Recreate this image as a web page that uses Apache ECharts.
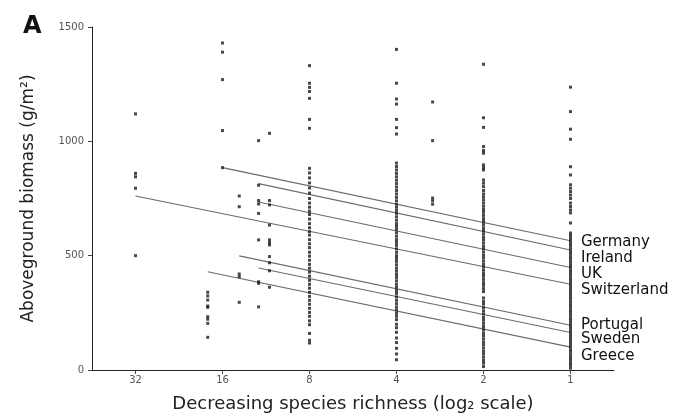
<!DOCTYPE html>
<html>
<head>
<meta charset="utf-8">
<script src="https://cdn.jsdelivr.net/npm/echarts@6/dist/echarts.min.js"></script>
<style>
  html, body { margin: 0; padding: 0; background: #fff; }
  #chart { width: 678px; height: 420px; }
</style>
</head>
<body>
<div id="chart"></div>
<script>
// species richness levels shown on the (log2) x axis
var richTicks = [1, 2, 4, 8, 16, 32];

// aboveground biomass (g/m2) of plots, per richness level
var rich32 = [1120, 860, 845, 795, 500];
var rich18 = [340, 324, 306, 280, 274, 233, 222, 204, 143];
var rich16 = [1430, 1390, 1270, 1047, 885];
var rich14 = [761, 714, 420, 408, 296];
var rich12 = [1003, 808, 741, 726, 685, 569, 386, 379, 276];
var rich11 = [1035, 741, 722, 634, 569, 557, 547, 496, 469, 434, 362];
var rich8 = [1331, 1254, 1236, 1218, 1188, 1096, 1057, 882, 862, 840, 818, 796, 774,
  750, 730, 712, 695, 680, 660, 640, 622, 605, 590, 570, 552, 535, 515, 498, 480, 462,
  445, 428, 410, 392, 375, 358, 340, 322, 305, 288, 270, 252, 235, 215, 198, 160, 130, 118];
var rich4 = [1402, 1254, 1185, 1163, 1096, 1060, 1032, 905, 890, 875, 860, 845, 830, 815,
  800, 785, 770, 755, 740, 725, 712, 698, 685, 670, 655, 640, 628, 615, 600, 585, 570,
  558, 545, 530, 515, 500, 488, 475, 460, 445, 432, 418, 405, 390, 375, 362, 348, 335,
  320, 305, 290, 275, 262, 248, 235, 220, 200, 185, 165, 140, 120, 95, 70, 45];
var rich3 = [1172, 1003, 752, 740, 725];
var rich2 = [1337, 1103, 1061, 977, 960, 948, 897, 885, 875, 831, 817, 802, 785, 770, 757,
  744, 730, 716, 702, 690, 676, 662, 650, 636, 622, 610, 596, 582, 570, 556, 542, 530,
  516, 502, 490, 476, 462, 450, 436, 422, 410, 396, 382, 370, 356, 343, 315, 300, 288,
  272, 258, 245, 230, 218, 204, 190, 176, 162, 150, 136, 122, 110, 96, 82, 70, 56, 42, 30, 15];
var rich1 = [1237, 1130, 1053, 1009, 889, 853, 810, 795, 780, 765, 750, 730, 715, 700, 687,
  643, 599, 588, 576, 565, 553, 542, 530, 518, 507, 495, 484, 472, 460, 449, 437, 426,
  414, 402, 391, 379, 368, 356, 344, 333, 321, 310, 298, 286, 275, 263, 252, 240, 228,
  217, 205, 194, 182, 170, 159, 147, 136, 124, 112, 101, 89, 78, 66, 54, 43, 31, 20, 8];

// fitted lines per country: richness where the line starts, value there, value at richness 1
var countries = ['Germany', 'Ireland', 'UK', 'Switzerland', 'Portugal', 'Sweden', 'Greece'];
var lineFrom = [16, 12, 12, 32, 14, 12, 18];
var lineStart = [885, 815, 735, 761, 499, 446, 430];
var lineEnd = [565, 525, 448, 375, 196, 164, 100];
var labelShift = [1, 8, 7, 6, 0, 7, 9];

var columns = [
  [32, rich32], [18, rich18], [16, rich16], [14, rich14], [12, rich12], [11, rich11],
  [8, rich8], [4, rich4], [3, rich3], [2, rich2], [1, rich1]
];
var points = [];
columns.forEach(function (c) {
  c[1].forEach(function (v) { points.push([c[0], v]); });
});

var series = [{
  type: 'scatter',
  data: points,
  symbol: 'rect',
  symbolSize: 3,
  itemStyle: { color: '#1a1a1a' },
  z: 3
}];
countries.forEach(function (name, i) {
  series.push({
    name: name,
    type: 'line',
    data: [[lineFrom[i], lineStart[i]], [1, lineEnd[i]]],
    symbol: 'none',
    lineStyle: { color: '#6a6a6a', width: 1.1 },
    z: 2
  });
});
// country names at the right end of the lines
series.push({
  type: 'scatter',
  symbolSize: 1,
  silent: true,
  itemStyle: { opacity: 0 },
  data: countries.map(function (name, i) {
    return {
      name: name,
      value: [1, lineEnd[i]],
      label: { offset: [0, labelShift[i]] }
    };
  }),
  label: {
    show: true,
    position: 'right',
    distance: 10,
    formatter: '{b}',
    color: '#111',
    opacity: 1,
    fontSize: 15,
    fontFamily: 'DejaVu Sans'
  },
  z: 4
});

var myChart = echarts.init(document.getElementById('chart'));
var option = {
  animation: false,
  title: {
    text: 'A',
    left: 18,
    top: 10,
    textStyle: { fontSize: 24, fontWeight: 'bold', color: '#111', fontFamily: 'DejaVu Sans' }
  },
  grid: { left: 92, right: 64, top: 27, bottom: 50 },
  xAxis: {
    type: 'log',
    logBase: 2,
    inverse: true,
    min: 0.7071,
    max: 45.25,
    name: 'Decreasing species richness (log\u2082 scale)',
    nameLocation: 'middle',
    nameGap: 25,
    nameTextStyle: { fontSize: 18, color: '#222', fontFamily: 'DejaVu Sans' },
    axisLine: { lineStyle: { color: '#222', width: 1 } },
    axisTick: { customValues: richTicks, length: 4, lineStyle: { color: '#444' } },
    axisLabel: { customValues: richTicks, fontSize: 10, color: '#555', margin: 5, fontFamily: 'DejaVu Sans' },
    splitLine: { show: false }
  },
  yAxis: {
    type: 'value',
    min: 0,
    max: 1500,
    interval: 500,
    name: 'Aboveground biomass (g/m\u00b2)',
    nameLocation: 'middle',
    nameGap: 55,
    nameTextStyle: { fontSize: 17, color: '#222', fontFamily: 'DejaVu Sans' },
    axisLine: { show: true, lineStyle: { color: '#222', width: 1 } },
    axisTick: { show: true, length: 4, lineStyle: { color: '#444' } },
    axisLabel: {
      fontSize: 10, color: '#555', margin: 8, fontFamily: 'DejaVu Sans',
      formatter: function (v) { return String(v); }
    },
    splitLine: { show: false }
  },
  series: series
};
myChart.setOption(option);
</script>
</body>
</html>
